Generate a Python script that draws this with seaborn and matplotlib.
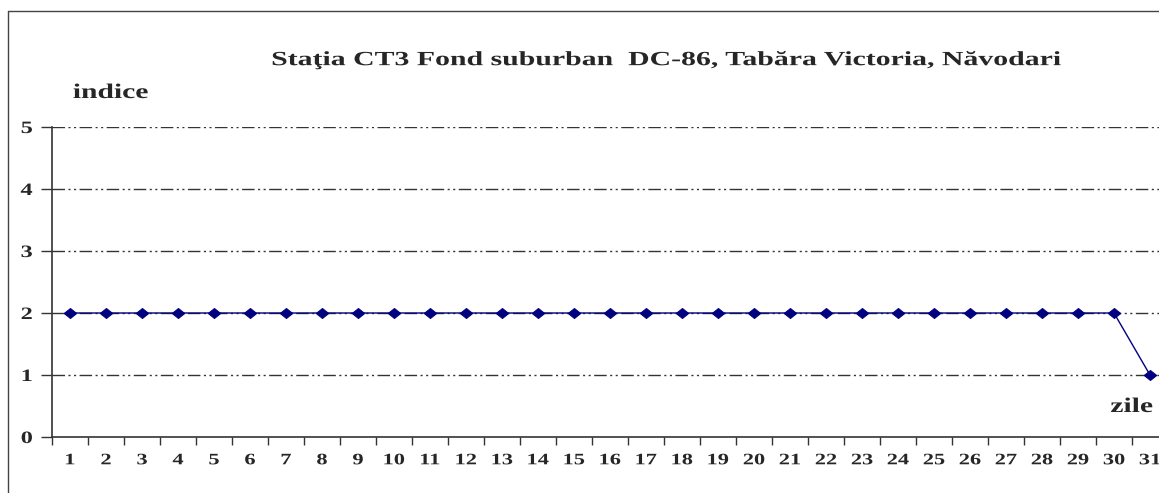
import numpy as np
import pandas as pd
import matplotlib.pyplot as plt
import seaborn as sns
from matplotlib.lines import Line2D
from matplotlib.patheffects import AbstractPathEffect
from matplotlib.transforms import Affine2D

# daily index values, station CT3
zile = list(range(1, 32))
indice = [2] * 30 + [1]
y_ticks = [0, 1, 2, 3, 4, 5]

df = pd.DataFrame({'zile': zile, 'indice': indice})


class Stretch(AbstractPathEffect):
    # widen glyphs horizontally (the original picture was stretched sideways)
    def __init__(self, sx, anchor='center'):
        super().__init__()
        self.sx = sx
        self.anchor = anchor

    def draw_path(self, renderer, gc, tpath, affine, rgbFace=None):
        bb = tpath.get_extents(affine)
        if self.anchor == 'left':
            cx = bb.x0
        elif self.anchor == 'right':
            cx = bb.x1
        else:
            cx = (bb.x0 + bb.x1) / 2
        t = affine + Affine2D().translate(-cx, 0).scale(self.sx, 1).translate(cx, 0)
        renderer.draw_path(gc, tpath, t, rgbFace)


sns.set_style('white')
plt.rcParams['font.family'] = ['Liberation Serif', 'DejaVu Serif']
plt.rcParams['font.weight'] = 'bold'

fig = plt.figure(figsize=(11.59, 4.93), dpi=100)
# plot area runs past the right edge, like the cropped original
ax = fig.add_axes([52 / 1159, 56 / 493, 1116 / 1159, 310 / 493])

# dash-dot-dot grid
for yv in y_ticks[1:]:
    ax.axhline(yv, color='#333333', lw=1, dashes=(9, 2.5, 1.5, 2.5, 1.5, 2.5), zorder=1)

diamond = [(-1.25, 0), (0, 1), (1.25, 0), (0, -1), (-1.25, 0)]
sns.lineplot(data=df, x='zile', y='indice', ax=ax, color='#000080', lw=1,
             marker=diamond, markersize=9, markeredgecolor='#000080', zorder=3)

ax.set_xlim(0.5, 31.5)
ax.set_ylim(0, 5)
ax.set_xticks(zile)
ax.set_xticklabels([str(z) for z in zile], fontsize=11.5, fontweight='bold')
ax.set_xticks(np.arange(0.5, 32, 1), minor=True)
ax.set_yticks(y_ticks)
ax.set_yticklabels([str(v) for v in y_ticks], fontsize=12.5, fontweight='bold')
ax.tick_params(axis='x', which='major', length=0, pad=11)
ax.tick_params(axis='x', which='minor', length=6, width=1, color='#333333', direction='out', bottom=True)
ax.tick_params(axis='y', length=8, width=1, color='#333333', direction='out', left=True, pad=6)
for lab in ax.get_xticklabels():
    lab.set_path_effects([Stretch(1.4)])
for lab in ax.get_yticklabels():
    lab.set_path_effects([Stretch(1.4, 'right')])
ax.set_xlabel('')
ax.set_ylabel('')
for s in ['top', 'right']:
    ax.spines[s].set_visible(False)
for s in ['left', 'bottom']:
    ax.spines[s].set_color('#333333')
    ax.spines[s].set_linewidth(1.2)

fig.text(0.575, 0.878, 'Staţia CT3 Fond suburban  DC-86, Tabăra Victoria, Năvodari',
         ha='center', va='center', fontsize=14.5, fontweight='bold',
         path_effects=[Stretch(1.48)])
fig.text(73 / 1159, 1 - 93 / 493, 'indice', ha='left', va='center', fontsize=15, fontweight='bold',
         path_effects=[Stretch(1.42, 'left')])
fig.text(1153 / 1159, 1 - 407 / 493, 'zile', ha='right', va='center', fontsize=15, fontweight='bold',
         path_effects=[Stretch(1.42, 'right')])

# outer chart frame (cropped on right and bottom)
fig.add_artist(Line2D([8 / 1159, 8 / 1159], [0, 1 - 11 / 493], transform=fig.transFigure, color='#444444', lw=1))
fig.add_artist(Line2D([8 / 1159, 1], [1 - 11 / 493, 1 - 11 / 493], transform=fig.transFigure, color='#444444', lw=1))

fig.savefig('out.png', dpi=100)
